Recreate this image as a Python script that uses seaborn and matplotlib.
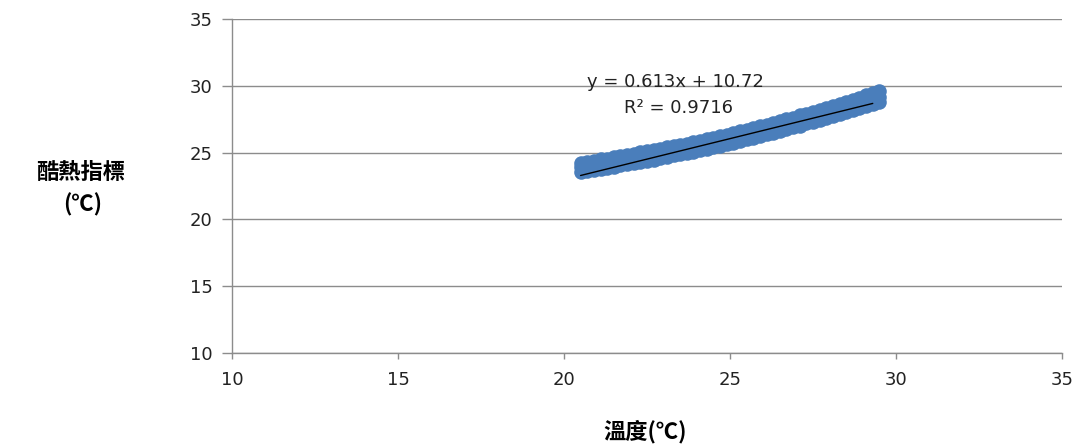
import matplotlib
matplotlib.use("Agg")
import matplotlib.pyplot as plt
import numpy as np
import pandas as pd
import seaborn as sns

# Air temperature (°C) readings
temperature = [20.5, 20.7, 20.9, 21.1, 21.3, 21.5, 21.7, 21.9, 22.1, 22.3,
               22.5, 22.7, 22.9, 23.1, 23.3, 23.5, 23.7, 23.9, 24.1, 24.3,
               24.5, 24.7, 24.9, 25.1, 25.3, 25.5, 25.7, 25.9, 26.1, 26.3,
               26.5, 26.7, 26.9, 27.1, 27.3, 27.5, 27.7, 27.9, 28.1, 28.3,
               28.5, 28.7, 28.9, 29.1, 29.3, 29.5]

# Heat index (°C) at the same temperatures for dry, moderate and humid air
heat_index_dry = [23.57, 23.63, 23.71, 23.76, 23.87, 23.93, 24.04, 24.11, 24.21, 24.28,
                  24.40, 24.47, 24.59, 24.67, 24.79, 24.87, 24.99, 25.07, 25.20, 25.28,
                  25.42, 25.51, 25.65, 25.75, 25.89, 25.99, 26.13, 26.24, 26.38, 26.49,
                  26.64, 26.75, 26.91, 27.02, 27.19, 27.30, 27.47, 27.60, 27.76, 27.89,
                  28.05, 28.18, 28.36, 28.49, 28.66, 28.80]
heat_index_mid = [23.90, 23.97, 24.05, 24.13, 24.21, 24.29, 24.38, 24.47, 24.55, 24.65,
                  24.74, 24.83, 24.93, 25.03, 25.12, 25.23, 25.33, 25.44, 25.54, 25.65,
                  25.76, 25.88, 25.99, 26.11, 26.23, 26.35, 26.47, 26.60, 26.72, 26.85,
                  26.98, 27.11, 27.25, 27.38, 27.52, 27.66, 27.80, 27.94, 28.09, 28.24,
                  28.39, 28.54, 28.69, 28.84, 29.00, 29.16]
heat_index_humid = [24.22, 24.31, 24.38, 24.49, 24.55, 24.66, 24.72, 24.83, 24.90, 25.02,
                    25.09, 25.20, 25.28, 25.40, 25.47, 25.59, 25.68, 25.80, 25.89, 26.01,
                    26.11, 26.24, 26.34, 26.47, 26.58, 26.72, 26.83, 26.97, 27.08, 27.23,
                    27.35, 27.50, 27.62, 27.78, 27.90, 28.06, 28.19, 28.35, 28.49, 28.66,
                    28.80, 28.97, 29.12, 29.29, 29.43, 29.58]

# Least-squares trend line
slope = 0.613
intercept = 10.72
r_squared = 0.9716

x_ticks = [10, 15, 20, 25, 30, 35]
y_ticks = [10, 15, 20, 25, 30, 35]

df = pd.DataFrame({
    "temperature": temperature * 3,
    "heat_index": heat_index_dry + heat_index_mid + heat_index_humid,
})

sns.set_theme(style="white")
plt.rcParams["font.family"] = ["DejaVu Sans"]
cjk = ["Noto Sans CJK TC", "DejaVu Sans"]

fig = plt.figure(figsize=(10.84, 4.47), dpi=100)
ax = fig.add_axes([0.214, 0.2103, 0.7657, 0.7472])

grid_gray = "#8c8c8c"
blue = "#4a7ebb"

for y in y_ticks:
    ax.axhline(y, color=grid_gray, lw=1.0, zorder=0)

sns.scatterplot(data=df, x="temperature", y="heat_index", ax=ax,
                marker="o", s=110, color=blue, edgecolor=blue, linewidth=0,
                legend=False, zorder=2)

x_fit = np.array([min(temperature), max(temperature) - 0.2])
ax.plot(x_fit, slope * x_fit + intercept, color="black", lw=1.0, zorder=3)

ax.text(23.37, 30.27, f"y = {slope}x + {intercept}", ha="center", va="center",
        fontsize=13, color="#222222")
ax.text(23.46, 28.32, f"R² = {r_squared}", ha="center", va="center",
        fontsize=13, color="#222222")

ax.set_xlim(10, 35)
ax.set_ylim(10, 35)
ax.set_xticks(x_ticks)
ax.set_yticks(y_ticks)
ax.set_xlabel("")
ax.set_ylabel("")

for side in ("top", "right"):
    ax.spines[side].set_visible(False)
for side in ("left", "bottom"):
    ax.spines[side].set_color(grid_gray)
    ax.spines[side].set_linewidth(1.0)

ax.tick_params(axis="y", direction="out", length=7, width=1.0, color=grid_gray,
               pad=7, labelsize=13, labelcolor="#222222", left=True)
ax.tick_params(axis="x", direction="out", length=4, width=1.0, color=grid_gray,
               pad=9, labelsize=13, labelcolor="#222222", bottom=True)

fig.text(0.074, 0.615, "酷熱指標", ha="center", va="center", fontsize=16,
         fontweight="bold", family=cjk, color="black")
fig.text(0.076, 0.543, "(℃)", ha="center", va="center", fontsize=16,
         fontweight="bold", family=cjk, color="black")
fig.text(0.595, 0.035, "溫度(℃)", ha="center", va="center", fontsize=16,
         fontweight="bold", family=cjk, color="black")

fig.savefig("out.png", dpi=100, facecolor="white")
